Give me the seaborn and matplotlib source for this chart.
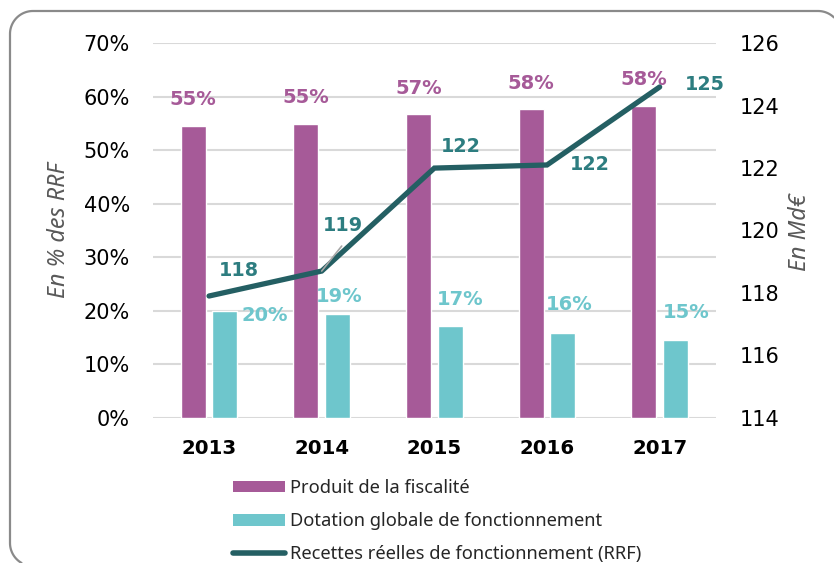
import matplotlib
matplotlib.use("Agg")
import matplotlib.pyplot as plt
import numpy as np
import pandas as pd
import seaborn as sns
from matplotlib.lines import Line2D
from matplotlib.patches import Patch

# ---- data -------------------------------------------------------------
years = ["2013", "2014", "2015", "2016", "2017"]
fiscalite = [54.6, 55.0, 56.7, 57.7, 58.3]      # % des RRF
dgf = [20.0, 19.3, 17.2, 15.8, 14.6]            # % des RRF
rrf = [117.9, 118.7, 122.0, 122.1, 124.6]       # Md€
series_names = ["Produit de la fiscalité", "Dotation globale de fonctionnement"]
line_name = "Recettes réelles de fonctionnement (RRF)"
left_ticks = [0, 10, 20, 30, 40, 50, 60, 70]
right_ticks = [114, 116, 118, 120, 122, 124, 126]

# ---- style ------------------------------------------------------------
PURPLE = "#A65A98"
TEAL = "#6EC6CC"
DARK = "#245F63"
DARK_LABEL = "#2D7D80"
GRID = "#D9D9D9"
AXLABEL = "#595959"

sns.set_theme(style="white")
plt.rcParams["font.family"] = ["DejaVu Sans"]

df = pd.DataFrame({
    "Année": years * 2,
    "Part": fiscalite + dgf,
    "Série": [series_names[0]] * len(years) + [series_names[1]] * len(years),
})

W, H = 834, 563
fig = plt.figure(figsize=(W / 100, H / 100), dpi=100)
ax = fig.add_axes([0.1831, 0.2581, 0.6754, 0.665])

sns.barplot(data=df, x="Année", y="Part", hue="Série", order=years,
            hue_order=series_names, palette=[PURPLE, TEAL], width=0.56,
            gap=0.21, saturation=1, errorbar=None, legend=False, ax=ax)

ax2 = ax.twinx()
sns.pointplot(x=years, y=rrf, order=years, color=DARK, errorbar=None,
              markersize=0, linewidth=3.8, ax=ax2)
for ln in ax2.lines:
    ln.set_solid_capstyle("round")
    ln.set_solid_joinstyle("miter")

# ---- axes -------------------------------------------------------------
ax.set_xlim(-0.5, len(years) - 0.5)
ax.set_ylim(0, 70)
ax.set_yticks(left_ticks)
ax.set_yticklabels([f"{t}%" for t in left_ticks])
ax2.set_ylim(114, 126)
ax2.set_yticks(right_ticks)
ax2.set_yticklabels([str(t) for t in right_ticks])

ax.set_xlabel("")
ax.set_ylabel("")
ax2.set_ylabel("")
ax.set_axisbelow(True)
ax.yaxis.grid(True, color=GRID, linewidth=1.5)
for a in (ax, ax2):
    for s in a.spines.values():
        s.set_visible(False)
ax.tick_params(axis="y", length=0, pad=16.5, labelsize=15, labelcolor="black")
ax.tick_params(axis="x", length=0, pad=15, labelsize=14.2, labelcolor="black")
for lbl in ax.get_xticklabels():
    lbl.set_fontweight("bold")
ax2.tick_params(axis="y", length=0, pad=17, labelsize=15, labelcolor="black")

fig.text(59 / W, 1 - 230 / H, "En % des RRF", rotation=90, ha="center",
         va="center", fontsize=16.8, style="italic", color=AXLABEL,
         family=["Noto Sans", "DejaVu Sans"])
fig.text(800 / W, 1 - 232 / H, "En Md€", rotation=90, ha="center",
         va="center", fontsize=16.8, style="italic", color=AXLABEL,
         family=["Noto Sans", "DejaVu Sans"])

# ---- value labels -----------------------------------------------------
fisc_bars = ax.containers[0]
dgf_bars = ax.containers[1]
dgf_offsets = [(40, -5), (2, 18), (10, 26), (6, 29), (11, 27)]
for bar, v in zip(fisc_bars, fiscalite):
    ax.annotate(f"{v:.0f}%", (bar.get_x() + bar.get_width() / 2, v),
                xytext=(0, 26), textcoords="offset pixels", ha="center",
                va="center", fontsize=14, fontweight="bold", color=PURPLE)
for bar, v, off in zip(dgf_bars, dgf, dgf_offsets):
    ax.annotate(f"{v:.0f}%", (bar.get_x() + bar.get_width() / 2, v),
                xytext=off, textcoords="offset pixels", ha="center",
                va="center", fontsize=14, fontweight="bold", color=TEAL)

line_pts = ax2.lines[0].get_xydata()
rrf_offsets = [(30, 26), (21, 46), (26, 22), (43, 0), (45, 2)]
for (x, _), v, off in zip(line_pts, rrf, rrf_offsets):
    ax2.annotate(f"{v:.0f}", (x, v), xytext=off, textcoords="offset pixels",
                 ha="center", va="center", fontsize=13.8, fontweight="bold",
                 color=DARK_LABEL, zorder=5)
# leader line for the 2014 label
ax2.annotate("", (line_pts[1][0], rrf[1]), xytext=(20, 25),
             textcoords="offset pixels",
             arrowprops=dict(arrowstyle="-", color="#A6A6A6", lw=1.2,
                             shrinkA=0, shrinkB=0))

# ---- legend -----------------------------------------------------------
handles = [
    Patch(facecolor=PURPLE, edgecolor="none", label=series_names[0]),
    Patch(facecolor=TEAL, edgecolor="none", label=series_names[1]),
    Line2D([0], [0], color=DARK, linewidth=4, solid_capstyle="round",
           label=line_name),
]
fig.legend(handles=handles, loc="upper left",
           bbox_to_anchor=(233 / W, 1 - 479 / H), frameon=False,
           borderpad=0, borderaxespad=0, handlelength=2.84, handleheight=0.6,
           handletextpad=0.28, labelspacing=0.83,
           prop={"family": ["Noto Sans", "DejaVu Sans"], "size": 13.2})

# ---- rounded frame (runs off the right and bottom edges) ---------------
r, left, top, right, bottom = 23, 10, 11, 841, 566


def arc(cx, cy, a0, a1):
    t = np.radians(np.linspace(a0, a1, 40))
    return cx + r * np.cos(t), cy + r * np.sin(t)


pieces = [
    arc(left + r, bottom - r, 90, 180),
    arc(left + r, top + r, 180, 270),
    arc(right - r, top + r, 270, 360),
]
fx = np.concatenate([p[0] for p in pieces])
fy = np.concatenate([p[1] for p in pieces])
keep = (fx <= W) & (fy <= H)
fig.add_artist(Line2D(fx[keep] / W, 1 - fy[keep] / H, transform=fig.transFigure,
                      color="#8A8A8A", linewidth=1.6, clip_on=False))

fig.savefig("out.png", dpi=100)
